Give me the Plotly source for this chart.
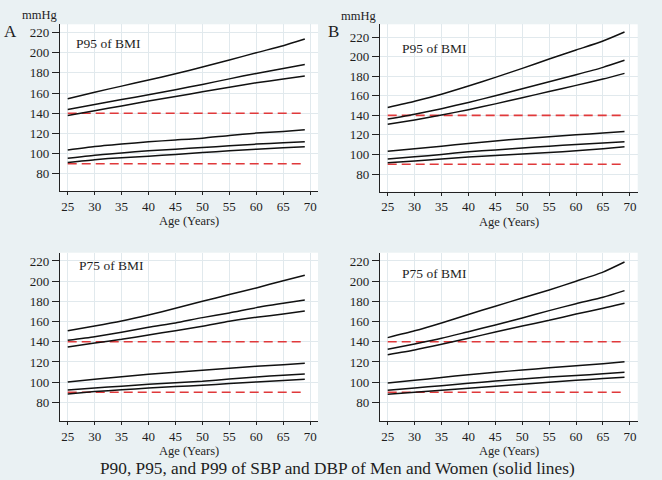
import plotly.graph_objects as go

# ---------------- data ----------------
ages = [25, 30, 35, 40, 45, 50, 55, 60, 65, 69]
ref_ages = [25, 69]
ref_sbp = [140, 140]
ref_dbp = [90, 90]
x_ticks = [25, 30, 35, 40, 45, 50, 55, 60, 65, 70]
y_ticks = [80, 100, 120, 140, 160, 180, 200, 220]

# Panel A (top-left)
A_sbp_p99 = [154.3, 160.8, 166.8, 172.8, 179.0, 185.7, 192.6, 199.9, 206.8, 213.4]
A_sbp_p95 = [143.7, 148.7, 153.5, 158.3, 163.2, 168.5, 174.0, 179.4, 184.3, 188.3]
A_sbp_p90 = [137.8, 142.4, 147.2, 152.0, 156.5, 161.2, 165.6, 170.1, 173.8, 176.8]
A_dbp_p99 = [103.5, 107.0, 109.5, 111.7, 113.5, 115.3, 118.0, 120.3, 122.0, 123.6]
A_dbp_p95 = [95.5, 98.5, 100.7, 102.8, 104.4, 106.0, 107.7, 109.4, 110.7, 111.7]
A_dbp_p90 = [91.2, 94.0, 96.0, 97.5, 99.2, 101.1, 102.8, 104.4, 105.8, 106.8]

# Panel B (top-right)
B_sbp_p99 = [148.1, 154.5, 161.6, 169.9, 178.8, 188.0, 197.5, 206.7, 215.9, 225.1]
B_sbp_p95 = [136.2, 141.2, 146.8, 153.2, 160.0, 167.2, 174.4, 181.5, 189.0, 196.2]
B_sbp_p90 = [130.8, 135.3, 140.3, 145.8, 151.7, 158.0, 164.3, 170.6, 177.1, 182.9]
B_dbp_p99 = [103.2, 105.8, 108.5, 111.3, 113.8, 116.1, 118.2, 120.2, 121.9, 123.6]
B_dbp_p95 = [95.3, 97.6, 100.1, 102.8, 104.7, 106.6, 108.5, 110.3, 111.7, 113.0]
B_dbp_p90 = [91.6, 93.4, 95.4, 97.4, 99.0, 100.5, 102.1, 103.8, 106.0, 107.8]

# Panel C (bottom-left)
C_sbp_p99 = [151.0, 155.6, 160.6, 166.5, 173.1, 180.1, 186.7, 193.3, 200.5, 205.8]
C_sbp_p95 = [141.4, 145.0, 149.3, 154.3, 158.6, 163.9, 168.5, 173.8, 178.1, 181.4]
C_sbp_p90 = [134.8, 138.8, 142.4, 146.7, 151.0, 155.3, 160.2, 164.2, 167.5, 170.5]
C_dbp_p99 = [100.2, 102.8, 105.3, 107.8, 109.8, 111.7, 113.7, 115.7, 117.2, 118.7]
C_dbp_p95 = [92.2, 94.2, 96.0, 97.8, 99.3, 100.8, 103.0, 105.1, 106.8, 108.0]
C_dbp_p90 = [88.3, 90.6, 92.4, 94.2, 95.6, 96.9, 98.6, 100.2, 101.5, 102.8]

# Panel D (bottom-right)
D_sbp_p99 = [144.1, 150.8, 158.6, 167.0, 175.2, 183.3, 191.3, 200.0, 209.0, 219.0]
D_sbp_p95 = [132.5, 137.8, 143.4, 150.0, 156.6, 163.6, 170.8, 177.7, 184.0, 190.6]
D_sbp_p90 = [127.2, 131.9, 137.5, 143.4, 149.7, 155.6, 161.2, 167.5, 173.1, 178.1]
D_dbp_p99 = [99.2, 101.8, 104.6, 107.4, 109.8, 112.0, 114.2, 116.3, 118.3, 120.3]
D_dbp_p95 = [91.9, 94.2, 96.5, 98.8, 101.1, 103.2, 105.0, 106.6, 108.2, 109.7]
D_dbp_p90 = [88.0, 89.9, 91.9, 93.9, 96.0, 98.0, 100.0, 101.8, 103.5, 104.8]

panel_series = [
    [A_sbp_p99, A_sbp_p95, A_sbp_p90, A_dbp_p99, A_dbp_p95, A_dbp_p90],
    [B_sbp_p99, B_sbp_p95, B_sbp_p90, B_dbp_p99, B_dbp_p95, B_dbp_p90],
    [C_sbp_p99, C_sbp_p95, C_sbp_p90, C_dbp_p99, C_dbp_p95, C_dbp_p90],
    [D_sbp_p99, D_sbp_p95, D_sbp_p90, D_dbp_p99, D_dbp_p95, D_dbp_p90],
]
panel_labels = ["P95 of BMI", "P95 of BMI", "P75 of BMI", "P75 of BMI"]

# ---------------- layout ----------------
W, H = 662, 480
FONT = "Liberation Serif, serif"
BG = "#eaf1f3"
GRID = "#e1e9ed"
TXT = "#1e1e1e"

xdoms = [[60 / W, 318 / W], [380 / W, 637.7 / W], [60 / W, 318 / W], [380 / W, 637.7 / W]]
ydoms = [[1 - 191 / H, 1 - 24.3 / H], [1 - 191.7 / H, 1 - 24.3 / H],
         [1 - 421 / H, 1 - 252.7 / H], [1 - 421 / H, 1 - 252.7 / H]]
yranges = [[63, 228], [62, 233], [61.5, 228.2], [61.5, 228.2]]
label_pos = [(26.2, 209), (27.3, 208.4), (26.8, 216), (27.2, 207.8)]

fig = go.Figure()
for i in range(4):
    xa = "x" if i == 0 else f"x{i+1}"
    ya = "y" if i == 0 else f"y{i+1}"
    for ref in (ref_sbp, ref_dbp):
        fig.add_trace(go.Scatter(x=ref_ages, y=ref, mode="lines", xaxis=xa, yaxis=ya,
                                 line=dict(color="#e0393b", width=1.6, dash="9px,5px"),
                                 showlegend=False, hoverinfo="skip"))
    for s in panel_series[i]:
        fig.add_trace(go.Scatter(x=ages, y=s, mode="lines", xaxis=xa, yaxis=ya,
                                 line=dict(color="#111111", width=1.5,
                                           shape="spline", smoothing=0.6),
                                 showlegend=False))

axis_common = dict(showline=True, linecolor="#222222", linewidth=1.2,
                   ticks="outside", tickcolor="#222222", tickwidth=1.2,
                   showgrid=True, gridcolor=GRID, gridwidth=1, zeroline=False,
                   tickfont=dict(family=FONT, size=13, color=TXT))

layout = dict(width=W, height=H, margin=dict(l=0, r=0, t=0, b=0),
              paper_bgcolor=BG, plot_bgcolor="white", showlegend=False)
for i in range(4):
    xk = "xaxis" if i == 0 else f"xaxis{i+1}"
    yk = "yaxis" if i == 0 else f"yaxis{i+1}"
    ya = "y" if i == 0 else f"y{i+1}"
    xa = "x" if i == 0 else f"x{i+1}"
    layout[xk] = dict(axis_common, domain=xdoms[i], range=[23.57, 71.45],
                      tickvals=x_ticks, ticklen=3, anchor=ya)
    layout[yk] = dict(axis_common, domain=ydoms[i], range=yranges[i],
                      tickvals=y_ticks, ticklen=7, anchor=xa)
fig.update_layout(**layout)

annotations = []
for i in range(4):
    xa = "x" if i == 0 else f"x{i+1}"
    ya = "y" if i == 0 else f"y{i+1}"
    annotations.append(dict(x=label_pos[i][0], y=label_pos[i][1], xref=xa, yref=ya,
                            text=panel_labels[i], showarrow=False, xanchor="left",
                            yanchor="middle", font=dict(family=FONT, size=13.5, color=TXT)))

def paper_text(text, px, py, size, anchor="center"):
    return dict(x=px / W, y=1 - py / H, xref="paper", yref="paper", text=text,
                showarrow=False, xanchor=anchor, yanchor="middle",
                font=dict(family=FONT, size=size, color=TXT))

annotations += [
    paper_text("A", 10, 32, 17),
    paper_text("B", 333, 32, 17),
    paper_text("mmHg", 39.5, 14.7, 12.5),
    paper_text("mmHg", 358.5, 15.5, 12.5),
    paper_text("Age (Years)", 189, 221, 12.5),
    paper_text("Age (Years)", 509, 221.5, 12.5),
    paper_text("Age (Years)", 189, 450.5, 12.5),
    paper_text("Age (Years)", 509, 450.5, 12.5),
    paper_text("P90, P95, and P99 of SBP and DBP of Men and Women (solid lines)", 337.5, 468.5, 17.3),
]
fig.update_layout(annotations=annotations)

fig.write_html(
    "out.html",
    config={"displayModeBar": False},
    post_script="document.body.style.margin='0';document.body.style.padding='0';"
                "document.documentElement.style.overflow='hidden';",
)
